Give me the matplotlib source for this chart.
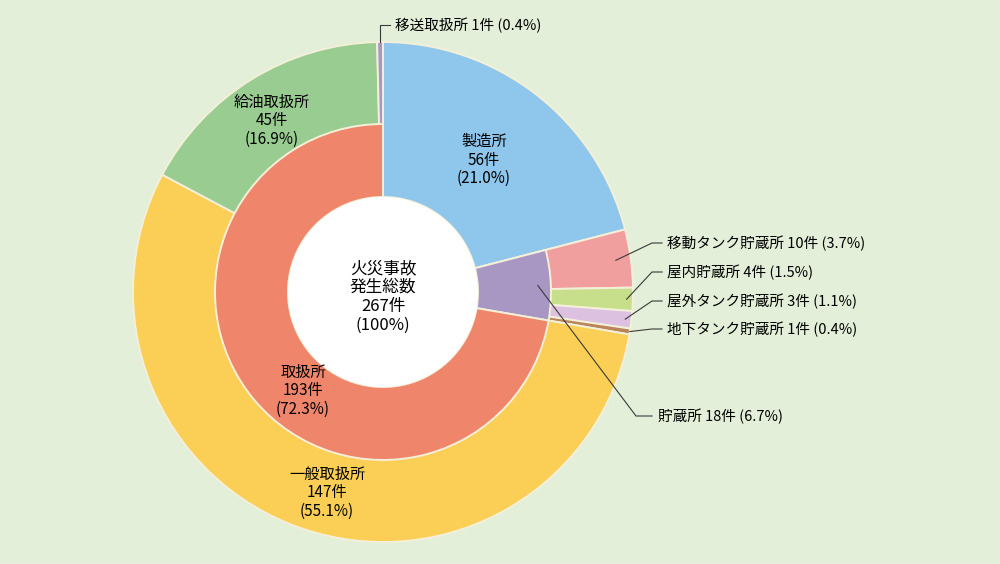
import numpy as np
import matplotlib
matplotlib.use('Agg')
import matplotlib.pyplot as plt

plt.rcParams['font.family'] = ['Noto Sans CJK JP', 'DejaVu Sans']

# Outer ring (by facility type)
outer_labels = ['製造所', '移動タンク貯蔵所', '屋内貯蔵所', '屋外タンク貯蔵所',
                '地下タンク貯蔵所', '一般取扱所', '給油取扱所', '移送取扱所']
outer_counts = [56, 10, 4, 3, 1, 147, 45, 1]
outer_pcts = ['21.0', '3.7', '1.5', '1.1', '0.4', '55.1', '16.9', '0.4']

# Inner ring (by category)
inner_labels = ['製造所', '貯蔵所', '取扱所']
inner_counts = [56, 18, 193]
inner_pcts = ['21.0', '6.7', '72.3']

total_label = '火災事故\n発生総数\n267件\n(100%)'

outer_colors = ['#8fc7ec', '#f19e9f', '#c7df8b', '#dcc2e0',
                '#b8865a', '#fbcf55', '#99cc90', '#a797c7']
inner_colors = ['none', '#a896c3', '#ef866c']
bg = '#e3efd8'
edge = '#f4efd8'

W, H = 1000, 564
cx, cy = 383, H - 292
R_out, R_mid, R_hole = 250, 168, 95


def py(y):
    # pixel y (top-down) to data y
    return H - y


fig = plt.figure(figsize=(10, 5.64), dpi=100)
fig.patch.set_facecolor(bg)
ax = fig.add_axes([0, 0, 1, 1])
ax.set_facecolor(bg)

wprops = dict(edgecolor=edge, linewidth=1.4)
outer_w, _ = ax.pie(outer_counts, colors=outer_colors, radius=R_out, center=(cx, cy),
                    startangle=90, counterclock=False,
                    wedgeprops=dict(width=R_out - R_hole, **wprops))
inner_w, _ = ax.pie(inner_counts, colors=inner_colors, radius=R_mid, center=(cx, cy),
                    startangle=90, counterclock=False,
                    wedgeprops=dict(width=R_mid - R_hole, **wprops))
inner_w[0].set_visible(False)

# white hole
ax.add_patch(plt.Circle((cx, cy), R_hole, facecolor='white', edgecolor='none', zorder=3))

ax.text(cx, py(297), total_label, ha='center', va='center', fontsize=12,
        linespacing=1.16, zorder=4)


def mid_angle(counts, i):
    c = np.cumsum([0] + list(counts))
    frac = (c[i] + c[i + 1]) / 2 / c[-1]
    return 2 * np.pi * frac  # clockwise from top


def point(counts, i, r):
    a = mid_angle(counts, i)
    return cx + r * np.sin(a), cy + r * np.cos(a)


# labels inside slices
inside = [
    (outer_labels[0], outer_counts[0], outer_pcts[0], 484, 160),
    (outer_labels[6], outer_counts[6], outer_pcts[6], 272, 121),
    (outer_labels[5], outer_counts[5], outer_pcts[5], 327, 493),
    (inner_labels[2], inner_counts[2], inner_pcts[2], 303, 391),
]
for name, n, p, x, y in inside:
    ax.text(x, py(y), f'{name}\n{n}件\n({p}%)', ha='center', va='center',
            fontsize=11, linespacing=1.1, zorder=4)

# leader-line labels on the right
fs = 10.5
lc = '#3a3a3a'
right = [
    (outer_counts, 1, 0.94 * R_out, 243),
    (outer_counts, 2, 0.975 * R_out, 272),
    (outer_counts, 3, 0.975 * R_out, 301),
    (outer_counts, 4, R_out, 329),
]
for counts, i, r, ty in right:
    x0, y0 = point(counts, i, r)
    ax.plot([x0, 652, 662], [y0, py(ty), py(ty)], color=lc, lw=0.8, zorder=5)
    ax.text(667, py(ty), f'{outer_labels[i]} {counts[i]}件 ({outer_pcts[i]}%)',
            ha='left', va='center', fontsize=fs, zorder=5)

# 貯蔵所 (inner ring)
x0, y0 = point(inner_counts, 1, 0.62 * R_out)
ax.plot([x0, 636, 652], [y0, py(416), py(416)], color=lc, lw=0.8, zorder=5)
ax.text(658, py(416), f'{inner_labels[1]} {inner_counts[1]}件 ({inner_pcts[1]}%)',
        ha='left', va='center', fontsize=fs, zorder=5)

# 移送取扱所 (top)
x0, y0 = point(outer_counts, 7, R_out)
ax.plot([x0, x0, 390], [y0, py(25), py(25)], color=lc, lw=0.8, zorder=5)
ax.text(395, py(25), f'{outer_labels[7]} {outer_counts[7]}件 ({outer_pcts[7]}%)',
        ha='left', va='center', fontsize=fs, zorder=5)

ax.set_xlim(0, W)
ax.set_ylim(0, H)
ax.set_aspect('equal')
ax.axis('off')

fig.savefig('out.png', dpi=100, facecolor=bg)
